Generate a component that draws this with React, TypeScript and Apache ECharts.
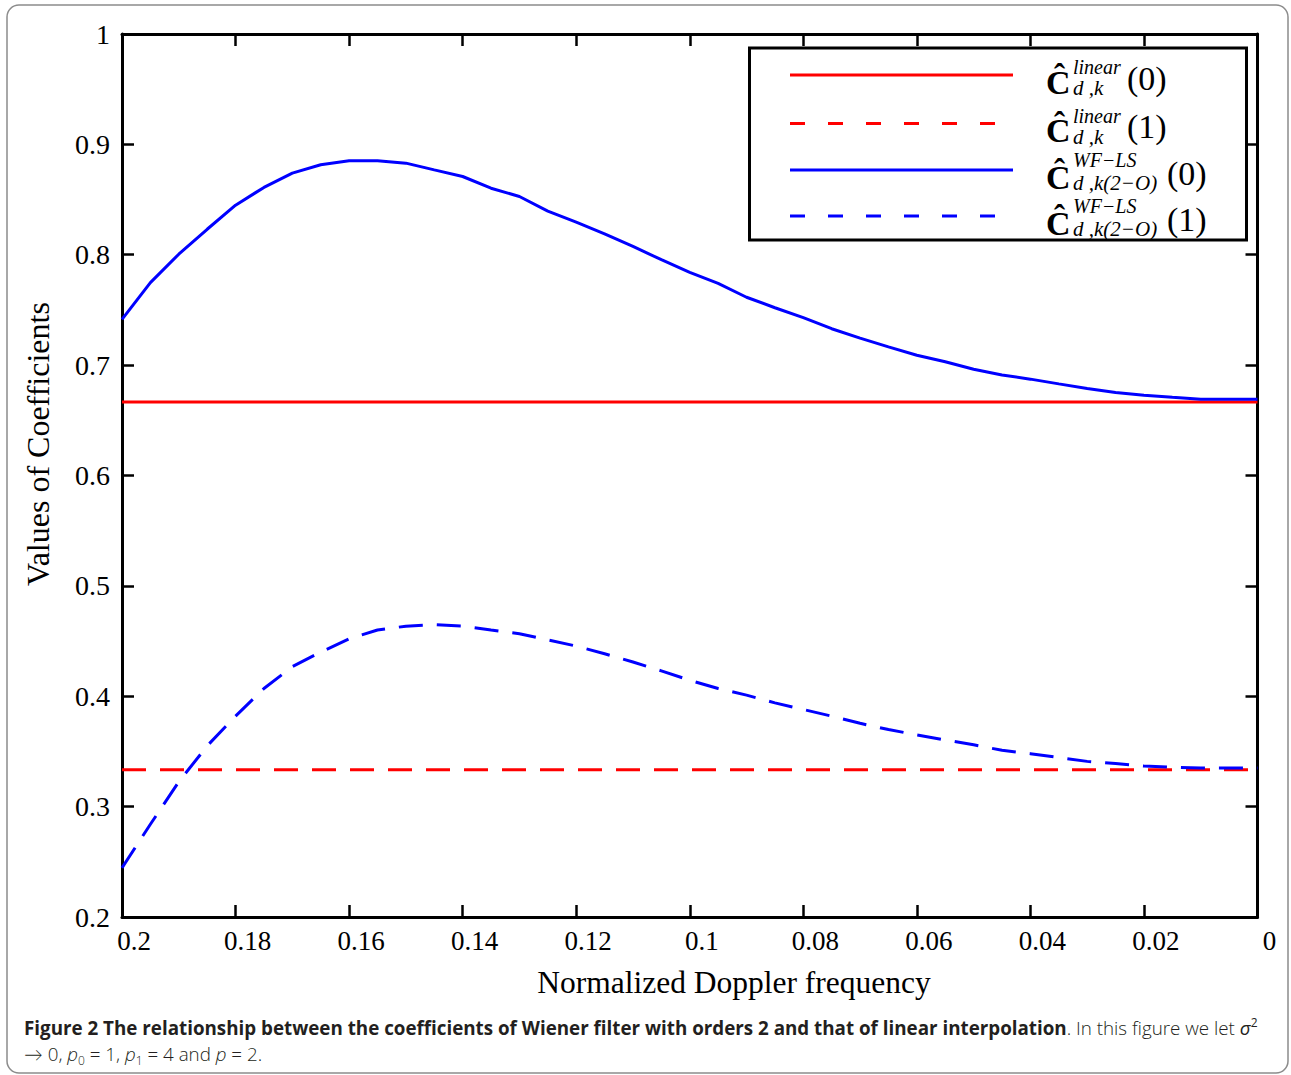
import React, { useEffect, useRef } from "react";
import * as echarts from "echarts";

// Normalized Doppler frequency samples (x axis is reversed: 0.2 -> 0)
const freq = [
  0.2, 0.195, 0.19, 0.185, 0.18, 0.175, 0.17, 0.165, 0.16, 0.155, 0.15,
  0.145, 0.14, 0.135, 0.13, 0.125, 0.12, 0.115, 0.11, 0.105, 0.1,
  0.095, 0.09, 0.085, 0.08, 0.075, 0.07, 0.065, 0.06, 0.055, 0.05,
  0.045, 0.04, 0.035, 0.03, 0.025, 0.02, 0.015, 0.01, 0.005, 0,
];

// WF-LS coefficient (0)
const wf0 = [
  0.7415, 0.7748, 0.8005, 0.8231, 0.8449, 0.861, 0.8739, 0.8815, 0.8851, 0.8851, 0.883,
  0.8769, 0.8709, 0.8603, 0.8528, 0.8395, 0.8295, 0.819, 0.8075, 0.7955, 0.784,
  0.774, 0.7615, 0.752, 0.743, 0.733, 0.7245, 0.7165, 0.709, 0.703, 0.6963,
  0.691, 0.6873, 0.683, 0.6788, 0.6752, 0.6728, 0.6708, 0.669, 0.669, 0.669,
];

// WF-LS coefficient (1)
const wf1 = [
  0.2445, 0.284, 0.3225, 0.355, 0.382, 0.407, 0.4268, 0.44, 0.452, 0.46, 0.4635,
  0.4648, 0.4635, 0.46, 0.4567, 0.451, 0.4455, 0.4385, 0.431, 0.423, 0.4145,
  0.407, 0.401, 0.394, 0.388, 0.382, 0.3755, 0.3698, 0.365, 0.3604, 0.356,
  0.351, 0.348, 0.3445, 0.341, 0.339, 0.3367, 0.3357, 0.335, 0.335, 0.335,
];

// Linear interpolation coefficients (constant)
const linearFreq = [0.2, 0];
const linear0 = [0.6667, 0.6667];
const linear1 = [0.3333, 0.3333];

const xTicks = { min: 0, max: 0.2, interval: 0.02 };
const yTicks = { min: 0.2, max: 1, interval: 0.1 };

const SERIF = "'Liberation Serif', 'Times New Roman', serif";
const SANS = "'Open Sans', Lato, sans-serif";
const RED = "#ff0000";
const BLUE = "#0000ff";
const CAP = 18.8;

function legendEntry(
  dy: number,
  color: string,
  dashed: boolean,
  sup: string,
  sub: string,
  arg: string,
  argX: number,
  supDy: number
) {
  const els: any[] = [];
  els.push({
    type: "line",
    shape: { x1: 790, y1: 75 + dy, x2: dashed ? 1003 : 1013, y2: 75 + dy },
    style: { stroke: color, lineWidth: 3, lineDash: dashed ? [15, 23] : null },
    z: 101,
  });
  els.push({
    type: "text",
    x: 1046,
    y: 82 + dy,
    style: {
      text: "\u0108",
      fontSize: 34,
      fontWeight: "bold",
      fontFamily: SERIF,
      fill: "#000",
      align: "left",
      verticalAlign: "middle",
    },
    z: 101,
  });
  els.push({
    type: "text",
    x: 1073,
    y: supDy + dy,
    style: {
      text: sup,
      fontSize: 20,
      fontStyle: "italic",
      fontFamily: SERIF,
      fill: "#000",
      align: "left",
      verticalAlign: "middle",
    },
    z: 101,
  });
  els.push({
    type: "text",
    x: 1073,
    y: 88 + dy,
    style: {
      text: sub,
      fontSize: 21,
      fontStyle: "italic",
      fontFamily: SERIF,
      fill: "#000",
      align: "left",
      verticalAlign: "middle",
    },
    z: 101,
  });
  els.push({
    type: "text",
    x: argX,
    y: 78 + dy,
    style: {
      text: arg,
      fontSize: 34,
      fontFamily: SERIF,
      fill: "#000",
      align: "left",
      verticalAlign: "middle",
    },
    z: 101,
  });
  return els;
}

export default function App() {
  const ref = useRef<HTMLDivElement>(null);

  useEffect(() => {
    document.body.style.margin = "0";
    document.body.style.overflow = "hidden";
    if (!ref.current) return;
    const chart = echarts.init(ref.current, null, { renderer: "svg" });

    const axisLineStyle = { color: "#000", width: 3 };
    const baseX = {
      type: "value",
      inverse: true,
      min: xTicks.min,
      max: xTicks.max,
      interval: xTicks.interval,
      splitLine: { show: false },
      axisLine: { show: true, onZero: false, lineStyle: axisLineStyle },
      axisTick: { show: true, inside: true, length: 12, lineStyle: { color: "#000", width: 2.5 } },
    };
    const baseY = {
      type: "value",
      min: yTicks.min,
      max: yTicks.max,
      interval: yTicks.interval,
      splitLine: { show: false },
      axisLine: { show: true, onZero: false, lineStyle: axisLineStyle },
      axisTick: { show: true, inside: true, length: 12, lineStyle: { color: "#000", width: 2.5 } },
    };

    const graphic: any[] = [
      {
        type: "rect",
        shape: { x: 7, y: 5, width: 1281, height: 1068, r: 12 },
        style: { fill: "none", stroke: "#8c8c8c", lineWidth: 1.5 },
        z: 0,
      },
      {
        type: "text",
        x: 38,
        y: 444,
        rotation: Math.PI / 2,
        style: {
          text: "Values of Coefficients",
          fontSize: 32,
          fontFamily: SERIF,
          fill: "#000",
          align: "center",
          verticalAlign: "middle",
        },
      },
      {
        type: "text",
        x: 734,
        y: 982,
        style: {
          text: "Normalized Doppler frequency",
          fontSize: 31.5,
          fontFamily: SERIF,
          fill: "#000",
          align: "center",
          verticalAlign: "middle",
        },
      },
      {
        type: "rect",
        shape: { x: 749.5, y: 48, width: 497, height: 192 },
        style: { fill: "#fff", stroke: "#000", lineWidth: 3 },
        z: 100,
      },
      ...legendEntry(0, RED, false, "linear", "d ,k", "(0)", 1127, 67),
      ...legendEntry(48.5, RED, true, "linear", "d ,k", "(1)", 1127, 67),
      ...legendEntry(95, BLUE, false, "WF\u2212LS", "d ,k(2\u2212O)", "(0)", 1167, 65),
      ...legendEntry(141, BLUE, true, "WF\u2212LS", "d ,k(2\u2212O)", "(1)", 1167, 65),
      {
        type: "text",
        x: 24,
        y: 1028,
        style: {
          text:
            "{b|Figure 2 The relationship between the coefficients of Wiener filter with orders 2 and that of linear interpolation}{n|. In this figure we let }{i|\u03c3}{sup|2}",
          fontFamily: SANS,
          fontSize: CAP,
          fill: "#231f20",
          align: "left",
          verticalAlign: "middle",
          rich: {
            b: { fontFamily: SANS, fontSize: CAP, fontWeight: "bold", fill: "#231f20", lineHeight: 24 },
            n: { fontFamily: SANS, fontSize: CAP, fontWeight: 300, fill: "#231f20", lineHeight: 24 },
            i: { fontFamily: SANS, fontSize: CAP, fontStyle: "italic", fill: "#231f20", lineHeight: 24 },
            sup: { fontFamily: SANS, fontSize: 12, fill: "#231f20", lineHeight: 24, verticalAlign: "top" },
          },
        },
      },
      {
        type: "text",
        x: 24,
        y: 1054,
        style: {
          text: "{n|\u2192 0, }{i|p}{sub|0}{n| = 1, }{i|p}{sub|1}{n| = 4 and }{i|p}{n| = 2.}",
          fontFamily: SANS,
          fontSize: CAP,
          fill: "#231f20",
          align: "left",
          verticalAlign: "middle",
          rich: {
            n: { fontFamily: SANS, fontSize: CAP, fontWeight: 300, fill: "#231f20", lineHeight: 24 },
            i: { fontFamily: SANS, fontSize: CAP, fontStyle: "italic", fontWeight: 300, fill: "#231f20", lineHeight: 24 },
            sub: { fontFamily: SANS, fontSize: 12, fontWeight: 300, fill: "#231f20", lineHeight: 24, verticalAlign: "bottom" },
          },
        },
      },
    ];

    chart.setOption({
      animation: false,
      backgroundColor: "#fff",
      textStyle: { fontFamily: SERIF },
      grid: { left: 122, top: 34, width: 1135.5, height: 883, containLabel: false },
      xAxis: [
        {
          ...baseX,
          position: "bottom",
          axisLabel: {
            show: true,
            margin: 10,
            fontSize: 27,
            fontFamily: SERIF,
            color: "#000",
            padding: [0, 0, 0, 24],
          },
        },
        { ...baseX, position: "top", axisLabel: { show: false } },
      ],
      yAxis: [
        {
          ...baseY,
          position: "left",
          axisLabel: { show: true, margin: 12, fontSize: 28, fontFamily: SERIF, color: "#000" },
        },
        { ...baseY, position: "right", axisLabel: { show: false } },
      ],
      series: [
        {
          type: "line",
          name: "linear0",
          xAxisIndex: 0,
          yAxisIndex: 0,
          data: linearFreq.map((f, i) => [f, linear0[i]]),
          showSymbol: false,
          symbol: "none",
          lineStyle: { color: RED, width: 3, type: "solid" },
          z: 3,
        },
        {
          type: "line",
          name: "linear1",
          xAxisIndex: 0,
          yAxisIndex: 0,
          data: linearFreq.map((f, i) => [f, linear1[i]]),
          showSymbol: false,
          symbol: "none",
          lineStyle: { color: RED, width: 3, type: [24, 14] },
          z: 3,
        },
        {
          type: "line",
          name: "wf0",
          xAxisIndex: 0,
          yAxisIndex: 0,
          data: freq.map((f, i) => [f, wf0[i]]),
          showSymbol: false,
          symbol: "none",
          lineStyle: { color: BLUE, width: 3, type: "solid" },
          z: 4,
        },
        {
          type: "line",
          name: "wf1",
          xAxisIndex: 0,
          yAxisIndex: 0,
          data: freq.map((f, i) => [f, wf1[i]]),
          showSymbol: false,
          symbol: "none",
          lineStyle: { color: BLUE, width: 3, type: [24, 14] },
          z: 4,
        },
      ],
      graphic,
    });

    return () => {
      chart.dispose();
    };
  }, []);

  return (
    <div
      ref={ref}
      style={{ position: "absolute", left: 0, top: 0, width: 1291, height: 1075, background: "#fff" }}
    />
  );
}
